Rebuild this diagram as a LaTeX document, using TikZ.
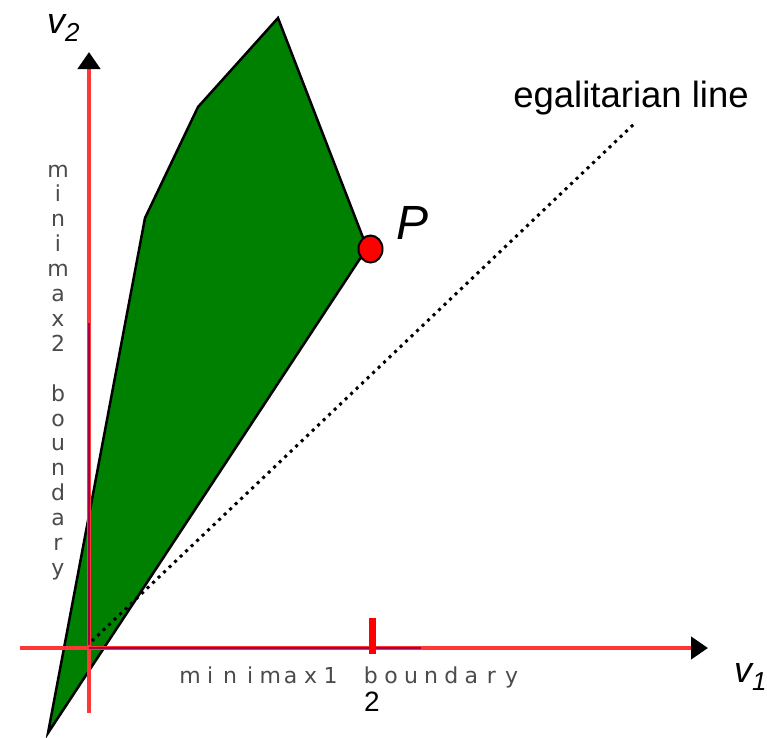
\documentclass[tikz,border=0pt]{standalone}
\usepackage{fontspec}
\setmainfont{Liberation Sans}
\newfontfamily\bndfont{DejaVu Sans}
\usetikzlibrary{arrows.meta,shapes.geometric}
\definecolor{polygreen}{RGB}{0,128,0}
\definecolor{axisred}{RGB}{255,55,55}
\definecolor{bndred}{RGB}{165,0,70}
\definecolor{tickred}{RGB}{255,0,0}
\definecolor{lblgray}{RGB}{75,75,75}
\begin{document}
\begin{tikzpicture}[x=1pt,y=-1pt,
  region/.style={fill=polygreen,draw=black,line width=2.5pt,line join=miter},
  axisline/.style={draw=axisred,line width=4.5pt,-{Triangle[length=17pt,width=22pt,color=black]}},
  bndline/.style={draw=bndred,line width=2.5pt},
  tickmark/.style={draw=tickred,line width=7pt},
  egal/.style={draw=black,line width=3pt,dash pattern=on 3pt off 4.6pt},
  ptmark/.style={ellipse,fill=tickred,draw=black,line width=2pt,minimum width=24pt,minimum height=27pt,inner sep=0pt},
  bndletter/.style={text=lblgray,font=\bndfont\fontsize{22}{22}\selectfont,anchor=base,inner sep=0pt},
  biglbl/.style={inner sep=0pt}
]
\useasboundingbox (0,0) rectangle (767,737);
% feasible region
\coordinate (A) at (48,733);
\coordinate (B) at (145,218);
\coordinate (C) at (198,107);
\coordinate (D) at (278,18);
\coordinate (E) at (367,248);
\filldraw[region] (A) -- (B) -- (C) -- (D) -- (E) -- cycle;
% egalitarian line
\coordinate (G0) at (92,641);
\coordinate (G1) at (635,123);
\draw[egal] (G0) -- (G1);
% axes
\coordinate (O) at (89,648);
\coordinate (Xl) at (20,648);
\coordinate (Xr) at (708,648);
\coordinate (Yb) at (89,713);
\coordinate (Yt) at (89,52);
\coordinate (Xb) at (421,648);
\coordinate (Yd) at (89,645);
\coordinate (Yu) at (89,323);
\draw[axisline] (Xl) -- (Xr);
\draw[axisline] (Yb) -- (Yt);
\draw[bndline] (O) -- (Xb);
\draw[bndline] (Yd) -- (Yu);
% tick at 2
\coordinate (T0) at (372,618);
\coordinate (T1) at (372,654);
\draw[tickmark] (T0) -- (T1);
\node[biglbl,font=\fontsize{28}{28}\selectfont] (two) at (372,702) {2};
% point P
\node[ptmark] (P) at (370.5,249) {};
\node[biglbl,font=\fontsize{48}{48}\selectfont\itshape] (Plbl) at (413,223) {P};
% axis labels
\node[biglbl,anchor=base west] (v2) at (47,33) {\fontsize{36}{36}\selectfont\itshape v\raisebox{-8pt}{\fontsize{26}{26}\selectfont 2}};
\node[biglbl,anchor=base west] (v1) at (734,682) {\fontsize{36}{36}\selectfont\itshape v\raisebox{-8pt}{\fontsize{26}{26}\selectfont 1}};
\node[biglbl,font=\fontsize{36.5}{36.5}\selectfont] (egl) at (631,98) {egalitarian line};
% minimax boundaries
\foreach \c/\i in {m/0,i/1,n/2,i/3,m/4,a/5,x/6,1/7,b/9,o/10,u/11,n/12,d/13,a/14,r/15,y/16}{
  \node[bndletter] (h\i) at ({190+20.1*\i},683) {\c};
}
\foreach \c/\i in {m/0,i/1,n/2,i/3,m/4,a/5,x/6,2/7,b/9,o/10,u/11,n/12,d/13,a/14,r/15,y/16}{
  \node[bndletter] (w\i) at (58,{177+24.9*\i}) {\c};
}
\end{tikzpicture}
\end{document}
